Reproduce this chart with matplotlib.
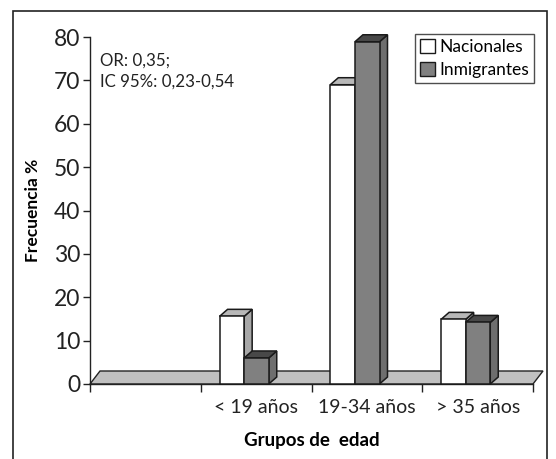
import matplotlib
matplotlib.use("Agg")
import matplotlib.pyplot as plt
from matplotlib.patches import Polygon, Rectangle, Patch

plt.rcParams['font.family'] = ['Lato', 'DejaVu Sans']

# data
categories = ["", "< 19 años", "19-34 años", "> 35 años"]
nacionales = [None, 15.6, 69.0, 14.9]
inmigrantes = [None, 6.0, 78.9, 14.2]
series_names = ["Nacionales", "Inmigrantes"]

W, H = 556, 459
fig = plt.figure(figsize=(W / 100, H / 100), dpi=100)

# axes box in pixels (left, right, top, bottom)
ax_l, ax_r, ax_t, ax_b = 90, 533, 37, 384
ax = fig.add_axes([ax_l / W, (H - ax_b) / H, (ax_r - ax_l) / W, (ax_b - ax_t) / H])
ax.set_xlim(0, len(categories))
ax.set_ylim(0, 80)

px_x = len(categories) / (ax_r - ax_l)   # data units per pixel
px_y = 80 / (ax_b - ax_t)

# floor
fdx, fdy = 10 * px_x, 13 * px_y
floor = Polygon([(0, 0), (len(categories), 0),
                 (len(categories) + fdx, fdy), (fdx, fdy)],
                closed=True, facecolor="#c0c0c0", edgecolor="#222222",
                lw=1.0, clip_on=False, zorder=1)
ax.add_patch(floor)

# 3d-ish bars
bdx, bdy = 8 * px_x, 7 * px_y
bar_w = 0.222
offset = 0.17
styles = [
    dict(front="#ffffff", top="#b8b8b8", side="#a8a8a8"),
    dict(front="#808080", top="#484848", side="#6e6e6e"),
]

def draw_bar(x0, h, st):
    x1 = x0 + bar_w
    kw = dict(closed=True, edgecolor="#1a1a1a", lw=1.1, clip_on=False, zorder=3)
    ax.add_patch(Polygon([(x1, 0), (x1 + bdx, bdy), (x1 + bdx, h + bdy), (x1, h)],
                         facecolor=st["side"], **kw))
    ax.add_patch(Polygon([(x0, h), (x1, h), (x1 + bdx, h + bdy), (x0 + bdx, h + bdy)],
                         facecolor=st["top"], **kw))
    ax.add_patch(Polygon([(x0, 0), (x1, 0), (x1, h), (x0, h)],
                         facecolor=st["front"], **kw))

for i in range(len(categories)):
    for j, vals in enumerate([nacionales, inmigrantes]):
        if vals[i] is None:
            continue
        draw_bar(i + offset + j * bar_w, vals[i], styles[j])

# axes styling
for s in ["top", "right"]:
    ax.spines[s].set_visible(False)
for s in ["left", "bottom"]:
    ax.spines[s].set_color("#222222")
    ax.spines[s].set_linewidth(1.0)
    ax.spines[s].set_zorder(2)

ax.set_yticks(range(0, 81, 10))
ax.tick_params(axis="y", length=5, width=1, labelsize=16.5, pad=2, colors="#222222")
ax.set_xticks(range(len(categories) + 1))
ax.set_xticklabels([])
ax.tick_params(axis="x", which="major", length=6, width=1, direction="out", colors="#222222")
ax.set_xticks([i + 0.5 for i in range(len(categories))], minor=True)
ax.set_xticklabels(categories, minor=True, fontsize=14)
ax.tick_params(axis="x", which="minor", length=0, pad=11, colors="#222222")

ax.set_ylabel("Frecuencia %", fontsize=12.5, fontweight="bold", labelpad=9)
ax.set_xlabel("Grupos de  edad", fontsize=13.5, fontweight="bold", labelpad=11)

fig.text(100 / W, 1 - 61 / H, "OR: 0,35;", fontsize=12.2, color="#222222", va="center")
fig.text(100 / W, 1 - 82 / H, "IC 95%: 0,23-0,54", fontsize=12.2, color="#222222", va="center")

handles = [Patch(facecolor=st["front"], edgecolor="#1a1a1a", lw=1.0) for st in styles]
leg = fig.legend(handles, series_names, loc="upper right",
                 bbox_to_anchor=(534 / W, 1 - 34 / H), fontsize=12.5,
                 frameon=True, fancybox=False, borderpad=0.3, labelspacing=0.4,
                 handlelength=0.85, handleheight=0.85, handletextpad=0.25,
                 borderaxespad=0)
leg.get_frame().set_edgecolor("#222222")
leg.get_frame().set_linewidth(1.0)

# outer frame
fig.patches.append(Rectangle((13 / W, -0.05), (547 - 13) / W, 1.05 - 11 / H,
                             transform=fig.transFigure, fill=False,
                             edgecolor="#222222", lw=1.2))

fig.savefig("out.png", dpi=100)
